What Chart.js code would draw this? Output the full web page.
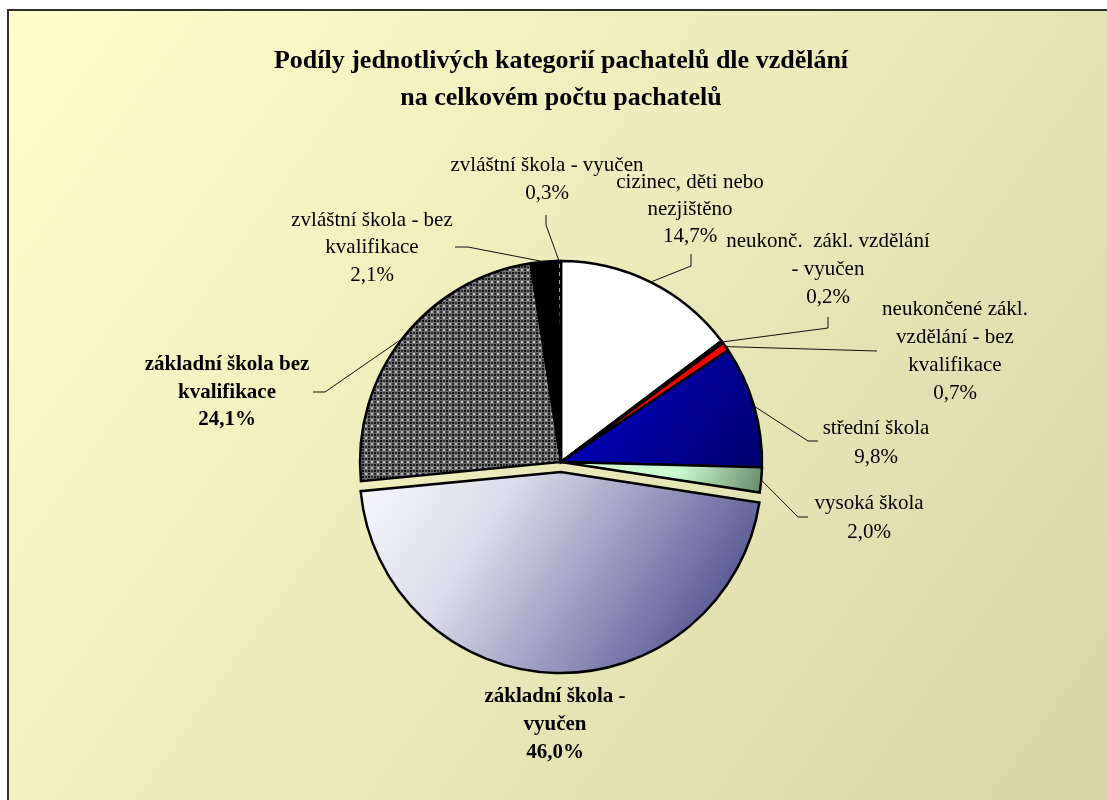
<!DOCTYPE html>
<html>
<head>
<meta charset="utf-8">
<script src="https://cdn.jsdelivr.net/npm/chart.js@4/dist/chart.umd.min.js"></script>
<style>
html,body{margin:0;padding:0;background:#fff;}
canvas{display:block;}
</style>
</head>
<body>
<canvas id="c" width="1107" height="800"></canvas>
<script>
// ---- data ----
const titleLines = ["Podíly jednotlivých kategorií pachatelů dle vzdělání", "na celkovém počtu pachatelů"];
const categories = [
  "cizinec, děti nebo nezjištěno",
  "neukonč.  zákl. vzdělání - vyučen",
  "neukončené zákl. vzdělání - bez kvalifikace",
  "střední škola",
  "vysoká škola",
  "základní škola - vyučen",
  "základní škola bez kvalifikace",
  "zvláštní škola - bez kvalifikace",
  "zvláštní škola - vyučen"
];
const shares = [14.7, 0.2, 0.7, 9.8, 2.0, 46.0, 24.1, 2.1, 0.3];
const labelLines = [
  ["cizinec, děti nebo", "nezjištěno"],
  ["neukonč.  zákl. vzdělání", "- vyučen"],
  ["neukončené zákl.", "vzdělání - bez", "kvalifikace"],
  ["střední škola"],
  ["vysoká škola"],
  ["základní škola -", "vyučen"],
  ["základní škola bez", "kvalifikace"],
  ["zvláštní škola - bez", "kvalifikace"],
  ["zvláštní škola - vyučen"]
];
const boldLabels = [false, false, false, false, false, true, true, false, false];
const explode = [0, 0, 0, 0, 0, 10, 0, 0, 0];

// ---- label layout (text centre, first line y, line step, leader elbow points) ----
const labelLayout = [
  {x: 690, y: 182, dy: 27, leader: [[691, 266], [691, 254]]},
  {x: 828, y: 241, dy: 28, leader: [[828, 328], [828, 317]]},
  {x: 955, y: 309, dy: 28, leader: [[877, 351]]},
  {x: 876, y: 428, dy: 29, leader: [[808, 441], [818, 441]]},
  {x: 869, y: 503, dy: 29, leader: [[798, 517], [808, 517]]},
  {x: 555, y: 697, dy: 28, leader: []},
  {x: 227, y: 365, dy: 27.5, leader: [[325, 392], [313, 392]]},
  {x: 372, y: 220, dy: 27.5, leader: [[468, 247], [455, 247]]},
  {x: 547, y: 165, dy: 28, leader: [[546, 225], [546, 215]]}
];

const PIE_RADIUS = 201;
const serif = "'Liberation Serif', 'Times New Roman', serif";

function fmtPct(v) { return v.toFixed(1).replace('.', ',') + '%'; }

// patterns
function makeCheckPattern(ctx) {
  const t = document.createElement('canvas');
  t.width = 6; t.height = 6;
  const g = t.getContext('2d');
  g.fillStyle = '#6e6e6e'; g.fillRect(0, 0, 6, 6);
  g.fillStyle = '#111'; g.fillRect(2, 2, 2, 2);
  g.fillStyle = '#b8b8b8';
  g.fillRect(0, 0, 1, 1); g.fillRect(5, 5, 1, 1); g.fillRect(0, 5, 1, 1); g.fillRect(5, 0, 1, 1);
  g.fillStyle = '#2a2a2a';
  g.fillRect(2, 0, 2, 1); g.fillRect(2, 5, 2, 1); g.fillRect(0, 2, 1, 2); g.fillRect(5, 2, 1, 2);
  return ctx.createPattern(t, 'repeat');
}
function makeDashPattern(ctx) {
  const t = document.createElement('canvas');
  t.width = 3; t.height = 8;
  const g = t.getContext('2d');
  g.fillStyle = '#000'; g.fillRect(0, 0, 3, 8);
  g.fillStyle = '#ddd'; g.fillRect(1, 0, 1, 4);
  return ctx.createPattern(t, 'repeat');
}

function centre(chart) {
  const a = chart.chartArea;
  return {cx: (a.left + a.right) / 2, cy: (a.top + a.bottom) / 2};
}

const fills = [
  () => '#ffffff',
  () => '#ffffff',
  () => '#ff0000',
  (chart) => {
    const {cx, cy} = centre(chart);
    const g = chart.ctx.createLinearGradient(cx, cy - 150, cx + 200, cy);
    g.addColorStop(0, '#0000d8'); g.addColorStop(1, '#000070');
    return g;
  },
  (chart) => {
    const {cx, cy} = centre(chart);
    const g = chart.ctx.createLinearGradient(cx + 120, cy, cx + 200, cy + 35);
    g.addColorStop(0, '#cdfcd2'); g.addColorStop(1, '#648864');
    return g;
  },
  (chart) => {
    const {cx, cy} = centre(chart);
    const g = chart.ctx.createLinearGradient(cx - 200, cy - 20, cx + 160, cy + 210);
    g.addColorStop(0, '#fbfbff'); g.addColorStop(0.35, '#dcdcea'); g.addColorStop(1, '#48488a');
    return g;
  },
  (chart) => makeCheckPattern(chart.ctx),
  () => '#000000',
  (chart) => makeDashPattern(chart.ctx)
];

const explodePlugin = {
  id: 'explode',
  afterDatasetsUpdate(chart) {
    const meta = chart.getDatasetMeta(0);
    meta.data.forEach((arc, i) => {
      const d = explode[i];
      if (!d) return;
      const mid = (arc.startAngle + arc.endAngle) / 2;
      arc.x += Math.cos(mid) * d;
      arc.y += Math.sin(mid) * d;
    });
  }
};

const bgPlugin = {
  id: 'bg',
  beforeDraw(chart) {
    const ctx = chart.ctx;
    const W = chart.width, H = chart.height;
    ctx.save();
    ctx.fillStyle = '#ffffff';
    ctx.fillRect(0, 0, W, H);
    const g = ctx.createLinearGradient(8, 10, W, H);
    g.addColorStop(0, '#ffffcc');
    g.addColorStop(1, '#d5d5a8');
    ctx.fillStyle = g;
    ctx.fillRect(8, 10, W - 8, H - 10);
    ctx.strokeStyle = '#2e2e2e';
    ctx.lineWidth = 2;
    ctx.beginPath();
    ctx.moveTo(8, H + 5); ctx.lineTo(8, 10); ctx.lineTo(W + 5, 10);
    ctx.stroke();
    // title
    ctx.fillStyle = '#000';
    ctx.font = "bold 26px " + serif;
    ctx.textAlign = 'center';
    ctx.textBaseline = 'middle';
    const {cx} = centre(chart);
    titleLines.forEach((t, i) => ctx.fillText(t, cx, 61 + i * 37));
    ctx.restore();
  }
};

const labelPlugin = {
  id: 'pieLabels',
  afterDatasetsDraw(chart) {
    const ctx = chart.ctx;
    const meta = chart.getDatasetMeta(0);
    ctx.save();
    meta.data.forEach((arc, i) => {
      const L = labelLayout[i];
      const p = arc.getProps(['x', 'y', 'startAngle', 'endAngle', 'outerRadius'], true);
      const mid = (p.startAngle + p.endAngle) / 2;
      if (L.leader.length) {
        const sx = p.x + Math.cos(mid) * p.outerRadius;
        const sy = p.y + Math.sin(mid) * p.outerRadius;
        ctx.strokeStyle = '#111';
        ctx.lineWidth = 1;
        ctx.beginPath();
        ctx.moveTo(sx, sy);
        L.leader.forEach(pt => ctx.lineTo(pt[0], pt[1]));
        ctx.stroke();
      }
      const lines = labelLines[i].concat([fmtPct(shares[i])]);
      ctx.fillStyle = '#000';
      ctx.font = (boldLabels[i] ? 'bold ' : '') + '21px ' + serif;
      ctx.textAlign = 'center';
      ctx.textBaseline = 'middle';
      lines.forEach((t, k) => ctx.fillText(t, L.x, L.y + k * L.dy));
    });
    ctx.restore();
  }
};

new Chart(document.getElementById('c'), {
  type: 'pie',
  data: {
    labels: categories,
    datasets: [{
      data: shares,
      backgroundColor: (ctx) => {
        if (!ctx.chart.chartArea) return '#ccc';
        return fills[ctx.dataIndex](ctx.chart);
      },
      borderColor: '#000',
      borderWidth: 2.5,
      borderJoinStyle: 'miter'
    }]
  },
  options: {
    responsive: false,
    animation: false,
    radius: PIE_RADIUS,
    rotation: 0,
    layout: {padding: {left: 100, right: 85, top: 200, bottom: 76}},
    plugins: {
      legend: {display: false},
      tooltip: {enabled: false},
      title: {display: false}
    }
  },
  plugins: [explodePlugin, bgPlugin, labelPlugin]
});
</script>
</body>
</html>
